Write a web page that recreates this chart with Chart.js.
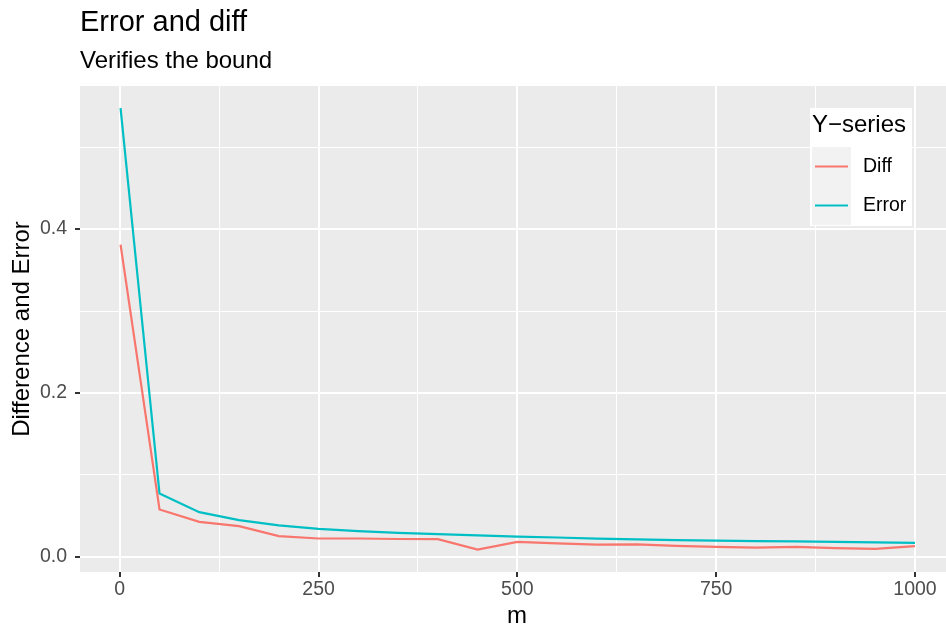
<!DOCTYPE html>
<html>
<head>
<meta charset="utf-8">
<script src="https://cdn.jsdelivr.net/npm/chart.js@4"></script>
<style>
  html, body { margin: 0; padding: 0; background: #ffffff; }
  #wrap { width: 946px; height: 629px; }
</style>
</head>
<body>
<div id="wrap"><canvas id="errChart" width="946" height="629"></canvas></div>
<script>
// values
const mValues = [1, 50, 100, 150, 200, 250, 300, 350, 400, 450, 500, 550, 600, 650, 700, 750, 800, 850, 900, 950, 1000];
const diffValues = [0.381, 0.0578, 0.0427, 0.0374, 0.0252, 0.0224, 0.0224, 0.0218, 0.0215, 0.0088, 0.0183, 0.0165, 0.0148, 0.0151, 0.0134, 0.0122, 0.0112, 0.0122, 0.0106, 0.0098, 0.0130];
const errorValues = [0.5476, 0.0773, 0.0545, 0.0448, 0.0383, 0.0341, 0.0313, 0.0293, 0.0277, 0.0262, 0.0246, 0.0236, 0.0222, 0.0212, 0.0204, 0.0199, 0.0192, 0.0188, 0.0183, 0.0177, 0.0171];
const xTicks = [0, 125, 250, 375, 500, 625, 750, 875, 1000];
const xMajor = [0, 250, 500, 750, 1000];
const yTicks = [0, 0.1, 0.2, 0.3, 0.4, 0.5];
const yMajor = [0, 0.2, 0.4];

const FONT = "'Liberation Sans', Arial, Helvetica, sans-serif";
const isMajor = (list, v) => list.some(t => Math.abs(t - v) < 1e-9);

// gray panel behind the grid
const panelBg = {
  id: 'panelBg',
  beforeDraw(chart) {
    const { ctx, chartArea: a } = chart;
    ctx.save();
    ctx.fillStyle = '#EBEBEB';
    ctx.fillRect(a.left, a.top, a.right - a.left, a.bottom - a.top);
    ctx.restore();
  }
};

// title, subtitle, x axis title and ggplot-like legend
const decorations = {
  id: 'decorations',
  afterDraw(chart) {
    const ctx = chart.ctx;
    ctx.save();
    ctx.fillStyle = '#000000';
    ctx.textAlign = 'left';
    ctx.textBaseline = 'alphabetic';
    ctx.font = '29px ' + FONT;
    ctx.fillText('Error and diff', 80, 31);
    ctx.font = '24px ' + FONT;
    ctx.fillText('Verifies the bound', 80, 68);

    // x axis title, centred on the (cropped) ggplot panel
    ctx.textAlign = 'center';
    ctx.fillText('m', 517, 623);
    ctx.textAlign = 'left';

    // legend
    const lx = 810, ly = 108, lw = 102, lh = 118;
    ctx.fillStyle = '#FFFFFF';
    ctx.fillRect(lx, ly, lw, lh);
    ctx.fillStyle = '#000000';
    ctx.font = '24px ' + FONT;
    ctx.fillText('Y\u2212series', lx + 2, ly + 24);
    ctx.font = '19.5px ' + FONT;
    ctx.textBaseline = 'middle';
    chart.data.datasets.forEach((ds, i) => {
      const ky = ly + 39 + i * 39;
      ctx.fillStyle = '#F2F2F2';
      ctx.fillRect(lx + 2, ky, 39, 39);
      ctx.strokeStyle = ds.borderColor;
      ctx.lineWidth = 2.2;
      ctx.beginPath();
      ctx.moveTo(lx + 5, ky + 19.5);
      ctx.lineTo(lx + 38, ky + 19.5);
      ctx.stroke();
      ctx.fillStyle = '#000000';
      ctx.fillText(ds.label, lx + 53, ky + 19.5);
    });
    ctx.restore();
  }
};

const config = {
  type: 'line',
  data: {
    datasets: [
      {
        label: 'Diff',
        data: mValues.map((m, i) => ({ x: m, y: diffValues[i] })),
        borderColor: '#F8766D',
        backgroundColor: '#F8766D',
        borderWidth: 2.2,
        pointRadius: 0,
        tension: 0,
        fill: false
      },
      {
        label: 'Error',
        data: mValues.map((m, i) => ({ x: m, y: errorValues[i] })),
        borderColor: '#00BFC4',
        backgroundColor: '#00BFC4',
        borderWidth: 2.2,
        pointRadius: 0,
        tension: 0,
        fill: false
      }
    ]
  },
  options: {
    responsive: false,
    animation: false,
    layout: { padding: { top: 86, right: 0, left: 0, bottom: 0 } },
    plugins: {
      legend: { display: false },
      tooltip: { enabled: false }
    },
    scales: {
      x: {
        type: 'linear',
        min: -50,
        max: 1039,
        afterBuildTicks: (scale) => { scale.ticks = xTicks.map(v => ({ value: v })); },
        afterFit: (scale) => { scale.height = 57; },
        border: { display: false },
        grid: {
          color: '#FFFFFF',
          lineWidth: (c) => isMajor(xMajor, c.tick.value) ? 2 : 1,
          tickColor: (c) => isMajor(xMajor, c.tick.value) ? '#333333' : 'rgba(0,0,0,0)',
          tickLength: 5,
          tickWidth: 2,
          drawTicks: true
        },
        ticks: {
          autoSkip: false,
          maxRotation: 0,
          padding: 1,
          color: '#4D4D4D',
          font: { family: FONT, size: 19.5 },
          callback: (v) => isMajor(xMajor, v) ? String(v) : ''
        },
        title: { display: false }
      },
      y: {
        type: 'linear',
        min: -0.0185,
        max: 0.5746,
        afterBuildTicks: (scale) => { scale.ticks = yTicks.map(v => ({ value: v })); },
        afterFit: (scale) => { scale.width = 80; },
        border: { display: false },
        grid: {
          color: '#FFFFFF',
          lineWidth: (c) => isMajor(yMajor, c.tick.value) ? 2 : 1,
          tickColor: (c) => isMajor(yMajor, c.tick.value) ? '#333333' : 'rgba(0,0,0,0)',
          tickLength: 5,
          tickWidth: 2,
          drawTicks: true
        },
        ticks: {
          autoSkip: false,
          padding: 8,
          color: '#4D4D4D',
          font: { family: FONT, size: 19.5 },
          callback: (v) => isMajor(yMajor, v) ? v.toFixed(1) : ''
        },
        title: {
          display: true,
          text: 'Difference and Error',
          color: '#000000',
          font: { family: FONT, size: 24 },
          padding: { top: 8, bottom: 0 }
        }
      }
    }
  },
  plugins: [panelBg, decorations]
};

document.addEventListener('DOMContentLoaded', () => {
  const canvas = document.getElementById('errChart');
  new Chart(canvas, config);
});
</script>
</body>
</html>
